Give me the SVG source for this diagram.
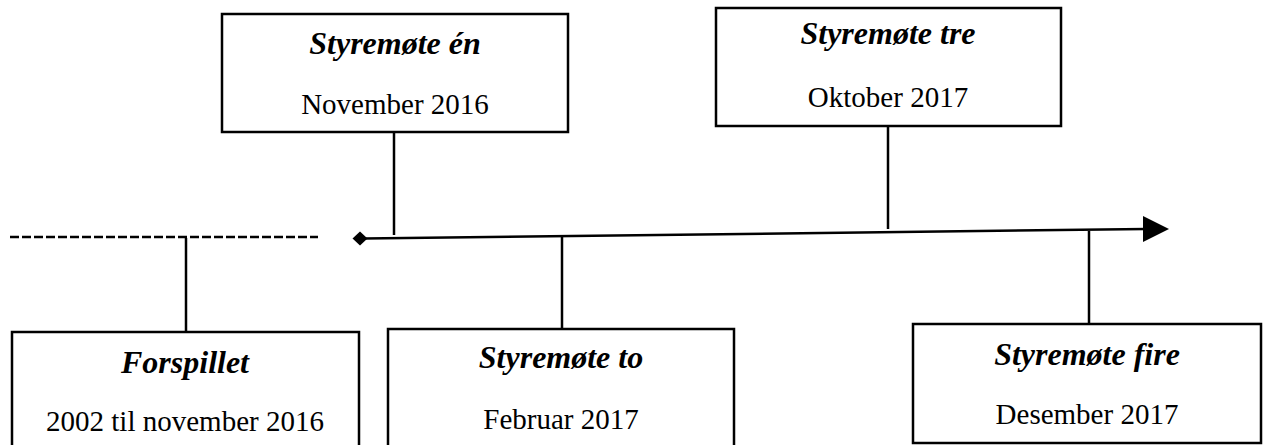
<svg xmlns="http://www.w3.org/2000/svg" width="1263" height="445" viewBox="0 0 1263 445">
<style>
.box{fill:#fff;stroke:#000;stroke-width:2.5}
.ln{stroke:#000;stroke-width:2.5;fill:none}
.t{font-family:"Liberation Serif","Times New Roman",serif;text-anchor:middle;fill:#000}
.h{font-size:32px;font-weight:bold;font-style:italic}
.d{font-size:29px}
</style>
<rect width="1263" height="445" fill="#fff"/>
<g id="connectors">
<line class="ln" x1="10" y1="237" x2="318" y2="237" stroke-width="3" stroke-dasharray="9,3"/>
<line class="ln" x1="364" y1="238.5" x2="1146" y2="229" stroke-width="3"/>
<polygon points="1143,216 1169,229 1143,242" fill="#000"/>
<polygon points="360,231.5 367.5,238.5 360,245.5 352.5,238.5" fill="#000"/>
<line class="ln" x1="186" y1="238" x2="186" y2="332"/>
<line class="ln" x1="394" y1="132" x2="394" y2="235"/>
<line class="ln" x1="562" y1="236" x2="562" y2="329"/>
<line class="ln" x1="888" y1="126" x2="888" y2="229"/>
<line class="ln" x1="1089" y1="231" x2="1089" y2="324"/>
</g>
<g id="n1">
<rect class="box" x="222" y="14" width="346" height="118"/>
<text class="t h" x="395" y="54">Styremøte én</text>
<text class="t d" x="395" y="114">November 2016</text>
</g>
<g id="n3">
<rect class="box" x="716" y="8" width="345" height="118"/>
<text class="t h" x="888" y="44">Styremøte tre</text>
<text class="t d" x="888" y="107">Oktober 2017</text>
</g>
<g id="n0">
<rect class="box" x="12" y="332" width="347" height="130"/>
<text class="t h" x="185" y="373">Forspillet</text>
<text class="t d" x="185" y="431">2002 til november 2016</text>
</g>
<g id="n2">
<rect class="box" x="388" y="329" width="346" height="130"/>
<text class="t h" x="561" y="368">Styremøte to</text>
<text class="t d" x="561" y="429">Februar 2017</text>
</g>
<g id="n4">
<rect class="box" x="913" y="324" width="348" height="119"/>
<text class="t h" x="1087" y="365">Styremøte fire</text>
<text class="t d" x="1087" y="424">Desember 2017</text>
</g>
</svg>
